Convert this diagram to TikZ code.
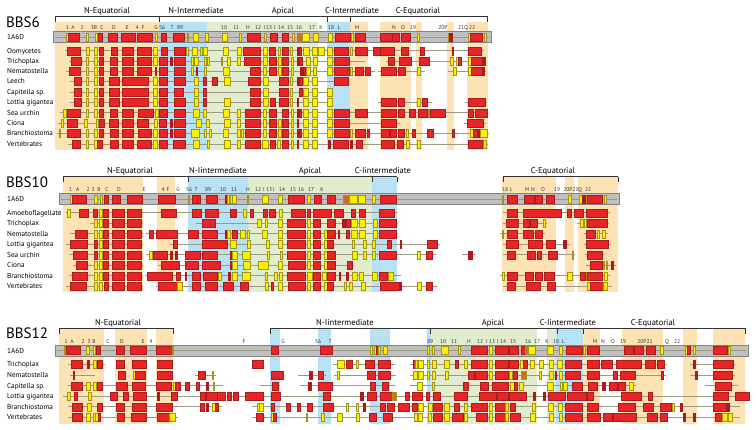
\documentclass[tikz,border=0pt]{standalone}
\usepackage{fontspec}
\setmainfont{PT Sans}

% colours
\definecolor{orbg}{RGB}{253,226,180}
\definecolor{blbg}{RGB}{183,225,245}
\definecolor{grbg}{RGB}{226,237,207}
\definecolor{exred}{RGB}{232,36,38}
\definecolor{exredline}{RGB}{165,30,30}
\definecolor{exyellow}{RGB}{255,240,0}
\definecolor{exyellowline}{RGB}{160,150,20}
\definecolor{exdark}{RGB}{175,25,30}
\definecolor{exbrown}{RGB}{205,110,40}
\definecolor{introncol}{RGB}{155,155,130}
\definecolor{barfill}{RGB}{192,192,192}
\definecolor{barline}{RGB}{130,130,130}

\tikzset{
  rx/.style={fill=exred, draw=exredline, line width=0.35pt},
  yx/.style={fill=exyellow, draw=exyellowline, line width=0.35pt},
  dx/.style={fill=exdark, draw=exdark, line width=0.35pt},
  bx/.style={fill=exbrown, draw=exyellowline, line width=0.35pt},
  intron/.style={draw=introncol, line width=0.45pt},
  bracket/.style={draw=black!80, line width=0.7pt},
  pdbbar/.style={fill=barfill, draw=barline, line width=0.5pt},
  species/.style={anchor=base west, inner sep=0pt, font=\fontsize{7.2}{8}\selectfont},
  region/.style={anchor=base, inner sep=0pt, font=\fontsize{8.5}{9}\selectfont},
  exnum/.style={anchor=base, inner sep=0pt, font=\fontsize{5.5}{5.5}\selectfont, text=black!80},
  bbstitle/.style={anchor=west, inner sep=0pt, font=\fontsize{15}{15}\selectfont},
}

% one gene row: y, intron segments, exon boxes
\newcommand{\gene}[3]{%
  \foreach \p/\q in {#2} \draw[intron] (\p,#1) -- (\q,#1);
  \foreach \a/\b/\s in {#3} \draw[\s] (\a,#1-4) rectangle (\b,#1+4);
}
% background domains: y top, y bottom, x ranges
\newcommand{\bands}[3]{%
  \foreach \a/\b/\col in {#3} \fill[\col] (\a,#1) rectangle (\b,#2);
}

\begin{document}
\begin{tikzpicture}[x=1pt,y=-1pt]
\useasboundingbox (0,0) rectangle (756,429);

%%%%%%%%%%%%%%%%%%%% BBS6
\bands{22}{150}{55/159/orbg, 159/207/blbg, 207/318/grbg, 327/350/blbg, 350/368/orbg,
  380/411/orbg, 416/422/orbg, 447/454/orbg, 467/488/orbg}
\node[bbstitle] (t6) at (6,22) {BBS6};

% domains
\draw[bracket] (55,16) -- (487,16);
\foreach \xx in {55,159,327,350,487} \draw[bracket] (\xx,16) -- (\xx,22);
\node[region] (r6a) at (107,13) {N-Equatorial};
\node[region] (r6b) at (196,13) {N-Intermediate};
\node[region] (r6c) at (283,13) {Apical};
\node[region] (r6d) at (352,13) {C-Intermediate};
\node[region] (r6e) at (418,13) {C-Equatorial};

% strand numbers
\foreach \xx/\t [count=\i] in {67.7/1, 73/A, 82/2, 94/3B, 102/C, 114/D, 127/E, 137/4, 143/F, 156/G,
  162/56, 172/7, 180/89, 224/10, 236/11, 248/H, 258/12, 265/I, 269/13, 275/J, 281/14, 290/15,
  299/16, 312/17, 321/K, 331/18, 339/L, 357/M, 394/N, 403/O, 413/19, 443/20P, 461/21, 466/Q, 472/22}
  \node[exnum] (n6-\i) at (\xx,29.5) {\t};

% species
\foreach \yy/\t [count=\i] in {37.2/1A6D, 50.7/Oomycetes, 61/Trichoplax, 71/Nematostella, 81.3/Leech,
  92/Capitella\ sp., 102.3/Lottia gigantea, 112.7/Sea urchin, 123/Ciona, 133.3/Branchiostoma, 143.8/Vertebrates}
  \node[species] (s6-\i) at (7,\yy+2.5) {\t};

\draw[pdbbar] (53,31.7) rectangle (491,42.7);
\gene{37.2}{55/489}{66.5/67.7/yx, 67.7/79/rx, 85.7/88.3/yx, 95/97.3/yx, 98.3/102.3/rx, 108/117/rx,
  120.7/135/rx, 136.7/151.7/rx, 155/156.7/yx, 161/166/rx, 173/184.3/rx, 186.7/188.3/yx, 193/197.7/yx,
  205/207.7/yx, 221.7/226.7/yx, 239/241/yx, 246.7/260/rx, 264/266/yx, 270/277/rx, 282/288/rx,
  292/294/yx, 297/301/bx, 301.7/309/yx, 313/317.7/yx, 327.7/331.7/yx, 335/350/rx, 350.7/353.3/yx,
  355/365/rx, 380/391.7/rx, 392/399/rx, 401/410/rx, 416.7/419/yx, 447.7/449.5/yx, 449.5/451.7/dx,
  468/470/yx, 470/481.7/rx, 484/486/yx}
\gene{50.7}{65/484}{67/80/rx, 86/89/yx, 94/97/yx, 99/103/rx, 111/117/rx, 122/133/rx, 137/151/rx,
  153/157/yx, 161/167/rx, 174/185/rx, 186/188/yx, 192/197/yx, 200/202/yx, 203/207/yx, 223/228/yx,
  237/241/yx, 243/260/rx, 263/267/yx, 269/275/rx, 278/280/yx, 282/288/rx, 290/292/yx, 297/298/dx,
  299/301/rx, 303/309/yx, 312/317/yx, 318/324/yx, 327/332/yx, 334/348/rx, 350/352/yx, 355/367/rx,
  373/380/rx, 380/394/rx, 401/408/rx, 420/424/rx, 452/453.5/dx, 468/481/rx}
\gene{61}{69/365, 386/486}{71/81/rx, 86/88/yx, 94/97/yx, 99/103/rx, 110/117/rx, 122/133/rx, 137/151/rx,
  153/157/yx, 159/167/rx, 170/172/dx, 174/185/rx, 191/193/yx, 194/198/yx, 204/206/yx, 207/209/yx,
  221.5/222.5/yx, 227/230/yx, 237/240/yx, 244/260/rx, 263/267/yx, 269/276/rx, 278/281/yx, 282/288/rx,
  291/293/yx, 297/298/dx, 299/302/rx, 306/310/yx, 313/317/yx, 327/332/yx, 334/349/rx, 388/394/rx,
  399/411/rx, 419/429/rx, 450/453/yx, 456/458/yx, 458/461/rx, 468/471/yx, 471/482/rx, 483/485/dx}
\gene{71}{66/375, 378/425, 448/486}{69/80/rx, 86/88/yx, 94/97/yx, 99/103/rx, 110/117/rx, 122/133/rx,
  137/151/rx, 155/156/dx, 159/167/rx, 174/185/rx, 191/193/yx, 196/197/rx, 204/206/yx, 223/229/yx,
  250/260/rx, 263/266/yx, 269/276/rx, 278/281/yx, 282/288/rx, 291/293/yx, 300/302/dx, 303/305/rx,
  306/310/yx, 313/316/yx, 327/332/yx, 334/349/rx, 350/352/yx, 355/363/rx, 365/370/rx, 381/396/rx,
  398/405/rx, 417/420/yx, 453/456/yx, 468/471/yx, 471/482/rx, 483/484.5/dx}
\gene{81.3}{70/350}{74/81/rx, 86/88/yx, 94/97/yx, 99/103/rx, 109/119/rx, 122/148/rx, 153/157/yx,
  159/167/rx, 174/185/rx, 194/198/yx, 203/206/rx, 212/217/rx, 224/230/yx, 248/260/rx, 263/268/yx,
  279/288/rx, 290/292/yx, 297/298/dx, 299/302/rx, 303/308/yx, 312/317/yx, 334/348/rx}
\gene{92}{70/333}{74/81/rx, 86/88/yx, 94/97/yx, 99/103/rx, 109/119/rx, 122/148/rx, 153/157/yx,
  159/167/rx, 174/183/rx, 194/198/yx, 203/206/rx, 250/260/rx, 263/268/yx, 279/288/rx, 290/292/yx,
  299/302/rx, 303/308/yx, 312/317/yx, 327/332/yx}
\gene{102.3}{70/333, 378/432, 465/487}{74/81/rx, 86/88/yx, 94/97/yx, 99/103/rx, 109/119/rx, 122/148/rx,
  153/157/yx, 159/167/rx, 174/185/rx, 194/198/yx, 203/206/rx, 224/230/yx, 250/260/rx, 263/268/yx,
  270/275/rx, 279/288/rx, 290/292/yx, 297/298/dx, 303/308/yx, 312/317/yx, 327/332/yx, 381/396/rx,
  398/404/rx, 417/420/yx, 422/427/rx, 468/485/rx}
\gene{112.7}{60/488}{63/66/yx, 67/80/rx, 86/88/yx, 94/97/yx, 99/103/rx, 110/117/rx, 122/133/rx,
  138/153/rx, 155/158/yx, 159/167/rx, 174/185/rx, 193/199/yx, 203/206/yx, 223/229/yx, 237/240/yx,
  245/260/rx, 263/266/yx, 269/276/rx, 282/288/rx, 291/293/yx, 297/298/dx, 299/301/rx, 303/308/yx,
  312/317/yx, 327/332/yx, 334/349/rx, 355/367/rx, 381/396/rx, 398/404/rx, 409/415/rx, 418/427/rx,
  428/429/yx, 430/445/rx, 468/473/rx, 475/487/rx}
\gene{123}{58/400, 464/486}{61/63/yx, 67/77/rx, 84/87/yx, 96/98/yx, 99/104/rx, 109/118/rx, 122/133/rx,
  137/148/rx, 154/157/yx, 159/166/rx, 170/172/dx, 174/185/rx, 196/201/yx, 206/209/yx, 224/230/yx,
  237/240/yx, 245/260/rx, 263/266/yx, 269/276/rx, 278/281/yx, 282/288/rx, 291/293/yx, 297/298/dx,
  303/308/yx, 312/317/yx, 327/332/yx, 334/349/rx, 381/396/rx, 467/483/rx}
\gene{133.3}{57/489}{59/60/yx, 67/80/rx, 86/88/yx, 94/97/yx, 99/103/rx, 110/118/rx, 122/133/rx,
  138/151/rx, 153/157/yx, 159/167/rx, 170/172/dx, 174/185/rx, 191/199/yx, 204/206/yx, 209/211/yx,
  223/228/yx, 237/240/yx, 241/243/yx, 245/260/rx, 263/266/yx, 269/276/rx, 278/281/yx, 282/288/rx,
  291/293/yx, 297/299/dx, 299/301/rx, 303/308/yx, 312/317/yx, 327/332/yx, 334/349/rx, 350/352/yx,
  355/365/rx, 367/369/rx, 381/389/rx, 390/396/rx, 398/404/rx, 406/408/yx, 412/415/rx, 427/433/rx,
  452/454/rx, 470/473/yx, 473/477/rx, 478/480/dx, 480/487/yx}
\gene{143.8}{68/488}{72/80/rx, 86/88/yx, 94/97/yx, 97/102/rx, 110/118/rx, 122/133/rx, 137/151/rx,
  153/157/yx, 159/167/rx, 173/185/rx, 193/199/yx, 207/209/yx, 224/230/yx, 237/240/yx, 245/260/rx,
  262/268/yx, 270/275/rx, 277/280/yx, 282/288/rx, 291/293/yx, 297/298/dx, 303/308/yx, 312/317/yx,
  328/330/dx, 333/348/rx, 350/352/dx, 356/362/rx, 381/394/rx, 397/403/rx, 406/409/yx, 417/420/yx,
  468/482/rx, 483/486/yx}

%%%%%%%%%%%%%%%%%%%% BBS10
\bands{177}{292}{63/143/orbg, 157/175/orbg, 188/248/blbg, 248/372/grbg, 372/397/blbg,
  502/556/orbg, 565/574/orbg, 578/618/orbg}
\node[bbstitle] (t10) at (6,182) {BBS10};

% domains
\draw[bracket] (63,176.7) -- (397,176.7);
\draw[bracket] (503,176.7) -- (618,176.7);
\foreach \xx in {63,188,372,397,503,618} \draw[bracket] (\xx,176.7) -- (\xx,182);
\node[region] (r10a) at (130,173.5) {N-Equatorial};
\node[region] (r10b) at (218,173.5) {N-Iintermediate};
\node[region] (r10c) at (310,173.5) {Apical};
\node[region] (r10d) at (383,173.5) {C-Iintermediate};
\node[region] (r10e) at (553,173.5) {C-Equatorial};

% strand numbers
\foreach \xx/\t [count=\i] in {70.7/1, 77.7/A, 88/2, 93/3, 99/B, 107/C, 119/D, 144/E, 163/4, 168/F,
  178/G, 189/56, 196/7, 208/89, 223/10, 234/11, 248/H, 258/12, 264/I, 269/13, 274/J, 282/14,
  293/15, 301/16, 311/17, 322/K, 505/18, 511/L, 527/M, 533/N, 543/O, 557/19, 571/20P21, 580/Q, 588/22}
  \node[exnum] (n10-\i) at (\xx,191) {\t};

% species
\foreach \yy/\t [count=\i] in {199/1A6D, 212.7/Amoeboflagellate, 223/Trichoplax, 233.7/Nematostella,
  244.3/Lottia gigantea, 254.7/Sea urchin, 265.3/Ciona, 275.7/Branchiostoma, 286.3/Vertebrates}
  \node[species] (s10-\i) at (7,\yy+2.5) {\t};

\draw[pdbbar] (59,193.5) rectangle (619,204.5);
\gene{199}{61/617}{70/72/yx, 72/86/rx, 94/97/yx, 100/102/yx, 104/108/rx, 112/120/rx, 127/142/rx,
  158/175/rx, 188.5/189.5/yx, 192/200/rx, 206/217/rx, 225/227/dx, 227/229/yx, 230/232/yx,
  232/236/yx, 247/248.5/yx, 262/268/yx, 278/282/yx, 288/304/rx, 307/310/yx, 314/321/rx, 327/335/rx,
  343/349/bx, 349/357/yx, 358/365/yx, 372/375/yx, 380/396/rx, 502/503.5/yx, 507/517/rx, 524/534/rx,
  535/542/rx, 546/554/rx, 568/571/yx, 579/582/yx, 582/585/dx, 586/587/yx, 587/602/rx, 604/606/yx}
\gene{212.7}{66/398, 503/610}{67/70/yx, 79/88/rx, 93/97/rx, 99/102/yx, 103/108/rx, 112/124/rx,
  127/141/rx, 161/176/rx, 192/201/rx, 205/218/rx, 230/236/rx, 243/246/yx, 250/253/rx, 263/267/rx,
  269/275/rx, 279/282/yx, 291/305/rx, 307/310/rx, 313/331/rx, 334/343/rx, 351/355/rx, 359/365/rx,
  379/394/rx, 507/517/rx, 523/561/rx, 567/571/rx, 574/583/rx, 586/607/rx}
\gene{223}{90/143, 196/398, 503/547, 577/609}{94/97/yx, 99/102/yx, 103/108/rx, 112/124/rx, 127/141/rx,
  202/215/rx, 257/261/yx, 265/267/yx, 278/282/yx, 287/305/rx, 307/310/yx, 313/320/rx, 327/335/rx,
  342/343/dx, 344/345/dx, 346/350/rx, 351/357/yx, 359/365/yx, 373/377/yx, 379/396/rx, 506/518/rx,
  523/529/rx, 530/537/rx, 543/545/yx, 580/583/yx, 584/586/yx, 587/607/rx}
\gene{233.7}{70/143, 146/398, 500/545, 584/608}{75/87/rx, 94/97/yx, 99/102/yx, 103/108/rx, 112/124/rx,
  127/141/rx, 149/153/rx, 156/177/rx, 188/198/rx, 202/217/rx, 225/227/dx, 227/230/yx, 232/237/rx,
  240/245/yx, 247/249/yx, 262/267/yx, 278/282/yx, 287/305/rx, 307/310/yx, 313/320/rx, 324/327/yx,
  327/335/rx, 338/339/dx, 346/349/rx, 351/357/yx, 359/365/yx, 373/377/yx, 379/396/rx, 502/503.5/yx,
  507/517/rx, 523/533/rx, 535/542/rx, 586/595/rx, 597/599/yx, 602/605/yx}
\gene{244.3}{66/143, 170/440, 503/570, 584/611}{70/87/rx, 94/97/rx, 99/102/yx, 103/108/rx, 112/124/rx,
  127/141/rx, 173/177/rx, 202/227/rx, 230/236/yx, 247/250/yx, 266/269/yx, 278/282/yx, 287/305/rx,
  307/310/yx, 313/320/rx, 324/327/yx, 327/333/rx, 352/354/yx, 363/366/yx, 372/375/yx, 387/391/rx,
  400/401/dx, 427/437/rx, 506/518/rx, 528/542/rx, 546/555/rx, 563/566/dx, 586/608/rx}
\gene{254.7}{69/143, 146/436, 462/475, 503/575, 585/604}{73/87/rx, 94/97/rx, 99/102/yx, 103/108/rx,
  112/124/rx, 127/141/rx, 149/152/yx, 153/167/rx, 170/172/dx, 175/177/dx, 185/200/rx, 202/217/rx,
  230/232/dx, 232/237/yx, 242/250/yx, 267/269/yx, 280/282/yx, 287/305/rx, 307/310/yx, 313/320/rx,
  324/327/yx, 327/335/rx, 352/357/yx, 363/366/yx, 372/375/yx, 379/396/rx, 417/420/yx, 426/432/rx,
  468/472/dx, 507/515/rx, 527/535/rx, 537/541/rx, 548/557/rx, 572/573.5/yx, 587/602/rx}
\gene{265.3}{73/143, 158/354, 586/616}{76/87/rx, 94/97/yx, 99/102/yx, 103/108/rx, 112/124/rx,
  127/141/rx, 161/179/rx, 185/198/rx, 202/220/rx, 230/232/dx, 232/237/yx, 243/250/yx, 258/268/yx,
  278/282/yx, 288/305/rx, 307/310/yx, 313/320/rx, 324/327/yx, 327/335/rx, 347/352/rx, 590/602/rx,
  603/604.5/yx, 606/607.5/yx, 611/613/dx}
\gene{275.7}{69/143, 145/401, 500/610}{72/87/rx, 94/97/yx, 99/102/yx, 103/108/rx, 112/124/rx,
  127/141/rx, 147/172/rx, 176/180/rx, 185.5/186.5/dx, 192/200/rx, 203/217/rx, 218/221/yx, 228/230/dx,
  232/237/yx, 242/250/yx, 265/267/yx, 274/277/yx, 279/282/yx, 287/305/rx, 307/312/yx, 313/320/rx,
  322/326/yx, 327/335/rx, 339/340/dx, 346/348/dx, 352/357/yx, 359/363/yx, 372/377/yx, 379/387/rx,
  388/393/yx, 502/504/yx, 507/517/rx, 525/533/rx, 535/542/rx, 544/554/rx, 567/572/yx, 580/585/rx,
  586/587/yx, 587/602/rx, 604/607/yx}
\gene{286.3}{66/143, 156/437, 503/612}{70/86/rx, 94/97/yx, 99/102/yx, 104/108/rx, 112/124/rx,
  127/141/rx, 158/177/rx, 177/182/yx, 192/200/rx, 205/217/rx, 223/233/rx, 240/248/rx, 265/268/yx,
  271/273/rx, 278/282/yx, 288/305/rx, 307/310/yx, 313/320/rx, 324/327/yx, 327/333/rx, 344/346/yx,
  349/352/yx, 361/365/yx, 380/399/rx, 400/400.8/dx, 417/421/yx, 426/432/rx, 507/515/rx, 526/540/rx,
  547/555/rx, 587/590/yx, 590/603/rx, 603/607/yx}

%%%%%%%%%%%%%%%%%%%% BBS12
\bands{329}{424}{59/104/orbg, 115/147/orbg, 156/173/orbg, 270/280/blbg, 318/331/blbg, 370/390/blbg,
  427/431/blbg, 431/537/grbg, 547/556/grbg, 556/583/blbg, 583/600/orbg, 622/663/orbg, 683/697/orbg,
  713/745/orbg}
\node[bbstitle] (t12) at (6,333) {BBS12};

% domains
\draw[bracket] (59,328.3) -- (173,328.3);
\draw[bracket] (270,328.3) -- (745,328.3);
\foreach \xx in {59,173,270,430,557,583,745} \draw[bracket] (\xx,328.3) -- (\xx,334);
\node[region] (r12a) at (118,325) {N-Equatorial};
\node[region] (r12b) at (345,325) {N-Iintermediate};
\node[region] (r12c) at (493,325) {Apical};
\node[region] (r12d) at (568,325) {C-Iintermediate};
\node[region] (r12e) at (653,325) {C-Equatorial};

% strand numbers
\foreach \xx/\t [count=\i] in {66/1, 72/A, 83/2, 89/3, 94/B, 108/C, 122/D, 143/E, 151/4, 244/F, 283/G,
  318/56, 330/7, 430/89, 443/10, 454/11, 469/H, 480/12, 487/I, 492/13, 498/J, 503/14, 513/15,
  528/16, 537/17, 547/K, 556/18, 563/L, 595/M, 603/N, 613/O, 623/19, 645/20P21, 667/Q, 677/22}
  \node[exnum] (n12-\i) at (\xx,343) {\t};

% species
\foreach \yy/\t [count=\i] in {350.5/1A6D, 364.3/Trichoplax, 375/Nematostella, 385.7/Capitella\ sp.,
  396/Lottia gigantea, 406.7/Branchiostoma, 417.3/Vertebrates}
  \node[species] (s12-\i) at (7,\yy+2.5) {\t};

\draw[pdbbar] (55,345) rectangle (748,356);
\gene{350.5}{57/746}{64/65.5/yx, 66/80/rx, 86/89/yx, 93/95/yx, 96/100/rx, 116/124/rx, 130/146/rx,
  156/172/rx, 172/173.5/yx, 271/278/rx, 320/332/rx, 370/372/yx, 374/376/yx, 376/378/rx, 378/380/yx,
  383/387/yx, 427/429/yx, 432/434/yx, 441/448/yx, 458/460/yx, 471/487/rx, 489/492/yx, 495/508/rx,
  509/518/rx, 521/525/rx, 525/527/bx, 528/535/yx, 547/553/yx, 559/562/yx, 566/582/rx, 583/585/yx,
  587/599/rx, 624/633/rx, 634/643/rx, 646/655/rx, 660/663/yx, 685/687/yx, 687/690/rx, 693/695/yx,
  713/727/rx, 728/730/yx}
\gene{364.3}{68/105, 333/395, 410/667, 690/735}{71/82/rx, 87/89/dx, 93/96/yx, 97/102/rx, 116/124/rx,
  132/146/rx, 157/172/rx, 252/263/rx, 337/344/yx, 346/352/rx, 356/358/yx, 365/374/rx, 378/390/rx,
  413/415/rx, 415/417/yx, 418/423/yx, 427/429/yx, 432/436/yx, 444/449/yx, 455/458/rx, 464/467/yx,
  471/487/rx, 489/492/yx, 495/508/rx, 509/518/rx, 520/523/yx, 523/527/rx, 530/534/yx, 539/543/yx,
  549/553/yx, 557/562/yx, 565/581/rx, 587/599/rx, 601/612/rx, 616/641/rx, 645/655/rx, 657/664/rx,
  693/695/dx, 713/733/rx}
\gene{375}{70/95, 195/216, 298/326, 334/396, 410/666, 690/735}{73/74.5/dx, 118/125/rx, 133/135/yx,
  135/145/rx, 157/172/rx, 198/205/rx, 212.5/213.5/yx, 271/283/rx, 309/312/dx, 318/323/rx, 337/339/yx,
  367/375/rx, 378/390/rx, 413/417/yx, 418/423/yx, 427/429/yx, 432/435/yx, 445/448/yx, 468/474/rx,
  475/487/rx, 489/492/yx, 495/508/rx, 509/512/yx, 513/517/rx, 521/526/bx, 539/541/yx, 549/553/yx,
  555/556.5/rx, 559/562/yx, 565/580/rx, 587/599/rx, 613/617/rx, 620/635/rx, 661/663/rx, 695/697/dx,
  713/732/rx}
\gene{385.7}{68/223, 260/280, 300/395, 410/636, 705/738}{71/82/rx, 86/90/yx, 93/96/yx, 97/102/rx,
  116/127/rx, 132/145/rx, 156/171/rx, 173/175/yx, 175/180/rx, 185/189/rx, 196/199/rx, 206/208/dx,
  213.5/214.5/yx, 272/278/rx, 308/311/dx, 318/332/rx, 370/375/rx, 382/388/rx, 417/422/yx, 432/434/yx,
  463/468/rx, 480/488/rx, 492/508/rx, 510/514/yx, 514/517/rx, 519/523/yx, 547/553/yx, 560/562/yx,
  563/567/yx, 572/582/rx, 588/597/rx, 602/603/dx, 604/605/dx, 609/617/rx, 618/625/rx, 629/633/yx,
  715/731/rx}
\gene{396}{63/750}{67/70/yx, 74/77/rx, 88/91/yx, 110/117/rx, 123/128/rx, 133/146/rx, 157/159/dx,
  171/177/rx, 200/205/rx, 206/217/rx, 217/225/rx, 227/231/rx, 233/238/rx, 245/263/rx, 271/280/rx,
  323/330/rx, 360/363/dx, 367/376/rx, 380/392/rx, 392/396/bx, 405/409/rx, 412/422/rx, 426/429/rx,
  433/440/rx, 454/467/rx, 479/496/rx, 497/508/rx, 509/526/rx, 533/535/dx, 543/545/dx, 548/565/rx,
  567/586/rx, 587/593/rx, 621/641/rx, 648/652/rx, 713/728/rx, 735/749/rx}
\gene{406.7}{68/222, 252/740}{72/82/rx, 87/91/yx, 97/102/rx, 116/124/rx, 132/146/rx, 156/172/rx,
  200/204/rx, 206/208/dx, 212/215/yx, 215/218/rx, 257/259/yx, 259/263/yx, 271/274/rx, 286/290/rx,
  297/300/rx, 307/312/rx, 323/333/rx, 346/348/yx, 356/358/yx, 363/365/dx, 380/385/rx, 387/394/rx,
  398/409/rx, 412/417/rx, 418/423/yx, 428/432/yx, 433/442/rx, 444/449/yx, 454/459/rx, 464/467/yx,
  471/487/rx, 489/492/yx, 495/505/rx, 505/508/yx, 510/515/rx, 532/535/yx, 548/553/yx, 558/562/yx,
  565/582/rx, 587/598/rx, 618/635/rx, 643/653/rx, 660/671/rx, 672/674/yx, 680/682/dx, 713/726/rx,
  727/729/dx}
\gene{417.3}{68/178, 252/740}{72/82/rx, 86/90/yx, 93/95/yx, 95/98/yx, 98/100/rx, 117/124/rx,
  131/146/rx, 157/169/rx, 169/175/yx, 256/263/rx, 271/273/yx, 273/276/rx, 306.5/307.5/yx, 321/324/yx,
  337/342/yx, 356/359/yx, 369/376/rx, 383/392/rx, 414/417/yx, 418/422/yx, 428/431/yx, 433/442/rx,
  444/449/yx, 452/463/rx, 464/467/yx, 476/487/rx, 489/492/yx, 495/505/rx, 505/508/yx, 510/520/rx,
  530/535/yx, 549/553/yx, 559/562/yx, 565/582/rx, 587/600/rx, 603/612/rx, 613/636/rx, 647/657/rx,
  660/667/rx, 683/685/dx, 693/695/dx, 715/722/rx, 722/727/yx, 728/732/yx}
\end{tikzpicture}
\end{document}
